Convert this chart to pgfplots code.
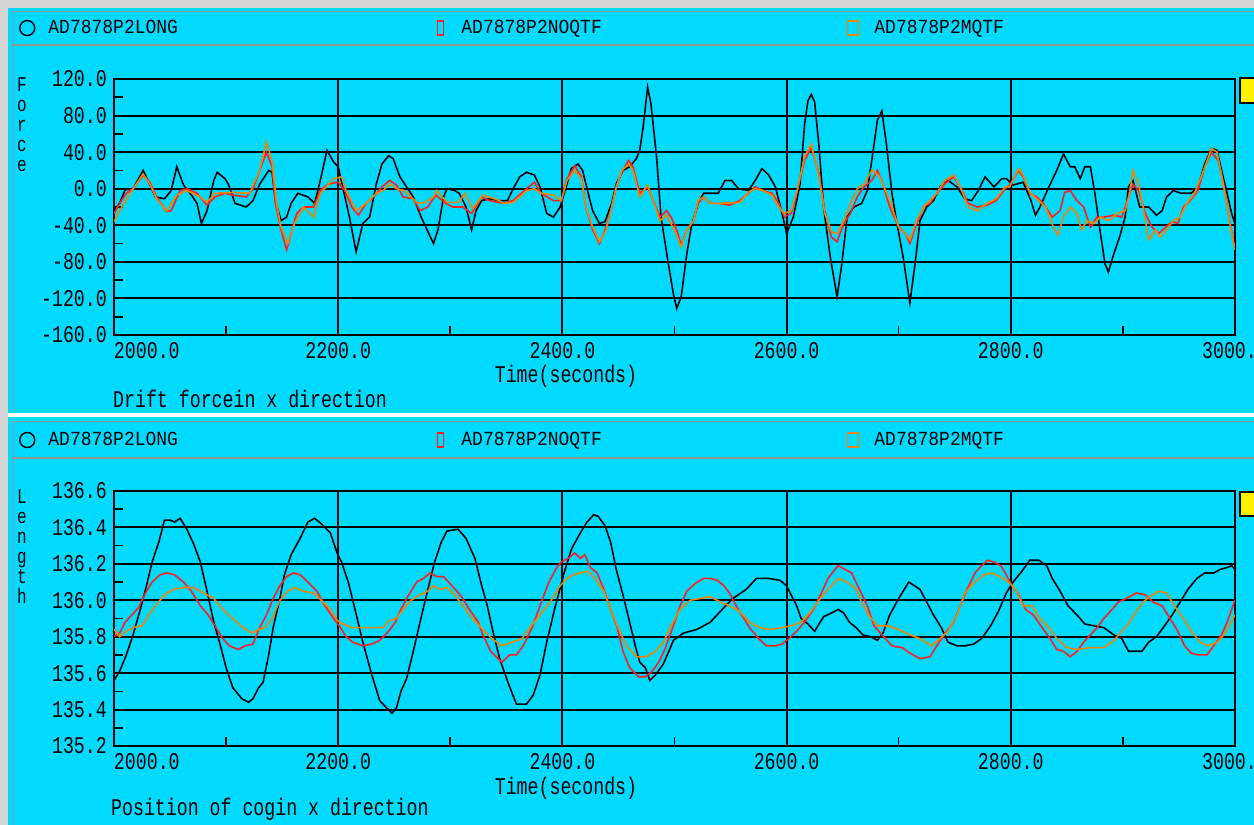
\documentclass[border=0pt]{standalone}
\usepackage{pgfplots}
\pgfplotsset{compat=1.18}
\usepackage{fontspec}
\newfontfamily\tickfam[FakeStretch=0.76]{Liberation Mono}
\newfontfamily\legfam[FakeStretch=0.9]{Liberation Mono}
\newcommand\tickfont{\tickfam\fontsize{24}{20}\selectfont}
\newcommand\stackfont{\tickfam\fontsize{21}{20}\selectfont}
\newcommand\legfont{\legfam\fontsize{20}{20}\selectfont}
\definecolor{panel}{RGB}{0,218,255}
\definecolor{frame}{RGB}{212,212,212}
\definecolor{rule}{RGB}{150,150,150}
\definecolor{sred}{RGB}{255,30,30}
\definecolor{sorange}{RGB}{240,135,0}

\pgfplotsset{
  panelaxis/.style={
    scale only axis, width=1121pt,
    xmin=2000, xmax=3000,
    xtick={2000,2200,...,3000},
    xticklabels={\phantom{2000.0}2000.0,2200.0,2400.0,2600.0,2800.0,3000.0},
    minor x tick num=1, minor y tick num=1,
    grid=major,
    grid style={black, line width=1.9pt},
    major grid style={black, line width=1.9pt},
    axis line style={black, line width=1.9pt},
    tick style={black, line width=1.6pt},
    major tick length=0pt, minor tick length=9pt,
    tick align=inside, xtick pos=left, ytick pos=left,
    tick label style={font=\tickfont, text=black},
    xticklabel style={anchor=north, inner sep=0pt, yshift=-7pt},
    yticklabel style={anchor=east, inner sep=0pt, xshift=-7pt},
    legend columns=3,
    legend cell align=left,
    legend style={draw=none, fill=none, inner sep=0pt, outer sep=0pt,
      font=\legfont, anchor=west, nodes={inner sep=0pt},
      /tikz/every odd column/.append style={column sep=13pt},
      /tikz/every even column/.append style={column sep=242pt}},
    every axis plot/.append style={line width=1.6pt, no markers},
  },
  longimg/.style={legend image code/.code={%
    \path[draw=none,fill=none] (0pt,-8pt) rectangle (16pt,8pt);
    \draw[black,fill=none,line width=1.4pt] (8pt,0pt) circle (7.5pt);}},
  noqimg/.style={legend image code/.code={%
    \path[draw=none,fill=none] (0pt,-8pt) rectangle (16pt,8pt);
    \draw[sred,fill=none,line width=1.5pt] (5pt,-7pt) -- (11pt,-7pt) -- (11pt,7pt) -- (5pt,7pt) -- cycle;}},
  mqimg/.style={legend image code/.code={%
    \path[draw=none,fill=none] (0pt,-8pt) rectangle (16pt,8pt);
    \draw[sorange,fill=none,line width=1.5pt] (2pt,-7pt) -- (13pt,-7pt) -- (13pt,7pt) -- (2pt,7pt) -- cycle;}},
}

\begin{document}
\begin{tikzpicture}
\useasboundingbox (0pt,0pt) rectangle (1254pt,-825pt);
\begin{scope}
\clip (0pt,0pt) rectangle (1254pt,-825pt);

% window frame and the two panels
\begin{scope}[x=1pt,y=-1pt]
  \fill[frame] (0,0) rectangle (1254,825);
  \fill[panel] (8,8) rectangle (1254,413);
  \fill[white] (8,413) rectangle (1254,417);
  \fill[panel] (8,417) rectangle (1254,825);
  \draw[rule,line width=1.5pt] (12.5,412) -- (12.5,11.5) -- (1254,11.5);
  \draw[rule,line width=1.5pt] (12.5,45) -- (1254,45);
  \draw[rule,line width=1.5pt] (12.5,825) -- (12.5,421.5) -- (1254,421.5);
  \draw[rule,line width=1.5pt] (12.5,458) -- (1254,458);
\end{scope}

% ---------- drift force ----------
\begin{axis}[panelaxis, at={(114pt,-335pt)}, anchor=south west, height=256pt,
  ymin=-160, ymax=120, ytick={-160,-120,...,120},
  yticklabels={-160.0,-120.0,-80.0,-40.0,0.0,40.0,80.0,120.0},
  legend style={at={(axis description cs:-0.0847,1.199)}}]
\addplot[black, longimg] coordinates {
(2000,-24)(2005,-16)(2010,-1)(2017,0)(2026,20)(2037,-9)(2045,-11)(2051,-2)(2056,24)(2062,4)
(2068,-5)(2074,-16)(2078,-38)(2083,-24)(2089,9)(2092,18)(2099,11)(2102,5)(2108,-16)(2118,-20)
(2124,-13)(2130,5)(2138,20)(2141,18)(2144,-13)(2149,-35)(2154,-31)(2158,-16)(2164,-5)(2173,-9)
(2179,-16)(2184,9)(2190,42)(2196,29)(2200,24)(2204,2)(2210,-31)(2216,-69)(2222,-38)(2228,-31)
(2234,5)(2239,27)(2245,36)(2249,33)(2255,13)(2261,2)(2267,-9)(2274,-31)(2285,-60)(2289,-45)
(2294,-9)(2297,0)(2304,-2)(2308,-5)(2314,-20)(2319,-45)(2323,-24)(2328,-13)(2335,-11)(2344,-13)
(2351,-13)(2356,0)(2362,13)(2368,18)(2375,15)(2380,2)(2386,-27)(2392,-31)(2398,-20)(2404,5)
(2408,22)(2414,27)(2418,20)(2423,-5)(2427,-24)(2433,-38)(2438,-36)(2444,-16)(2448,5)(2454,20)
(2460,24)(2466,33)(2469,42)(2472,67)(2476,111)(2479,93)(2484,35)(2488,-31)(2494,-78)(2499,-115)
(2502,-131)(2506,-118)(2511,-71)(2515,-42)(2521,-16)(2526,-5)(2532,-5)(2539,-5)(2545,9)(2551,9)
(2557,0)(2566,-2)(2572,9)(2578,22)(2584,15)(2590,2)(2596,-27)(2600,-49)(2606,-31)(2612,5)
(2616,70)(2619,96)(2622,103)(2625,95)(2629,45)(2633,-20)(2639,-75)(2645,-118)(2649,-85)(2654,-31)
(2660,-20)(2667,-16)(2672,-2)(2676,31)(2681,75)(2685,85)(2689,49)(2694,-5)(2698,-35)(2704,-75)
(2710,-125)(2715,-78)(2719,-35)(2725,-20)(2731,-13)(2737,2)(2744,9)(2752,2)(2759,-11)(2765,-13)
(2771,-2)(2777,13)(2785,2)(2792,11)(2796,11)(2802,4)(2811,7)(2818,-13)(2822,-29)(2826,-20)
(2834,2)(2841,20)(2847,38)(2853,24)(2857,24)(2862,11)(2866,24)(2871,24)(2875,-5)(2880,-49)
(2884,-82)(2887,-91)(2892,-71)(2897,-53)(2902,-31)(2905,2)(2909,9)(2915,-20)(2923,-20)(2930,-29)
(2935,-24)(2939,-9)(2945,-2)(2952,-5)(2961,-5)(2967,2)(2973,27)(2979,44)(2984,42)(2988,20)
(2993,-5)(2997,-27)(3000,-38)};
\addlegendentry{\makebox[142pt][l]{AD7878P2LONG}}
\addplot[sred, noqimg] coordinates {
(2000,-27)(2005,-16)(2011,-5)(2017,0)(2026,15)(2032,7)(2038,-9)(2047,-25)(2051,-24)(2059,-2)
(2065,0)(2074,-5)(2083,-18)(2090,-9)(2099,-5)(2106,-7)(2118,-9)(2124,0)(2130,20)(2136,40)
(2141,24)(2144,-16)(2149,-45)(2154,-67)(2158,-49)(2163,-27)(2169,-20)(2178,-20)(2184,-2)(2191,5)
(2200,7)(2206,-2)(2212,-20)(2218,-29)(2225,-16)(2233,-7)(2239,2)(2246,9)(2252,4)(2258,-9)
(2267,-11)(2273,-24)(2280,-20)(2287,-7)(2296,-16)(2302,-20)(2311,-20)(2319,-27)(2328,-9)(2335,-13)
(2347,-16)(2356,-13)(2368,0)(2375,7)(2381,-5)(2392,-13)(2399,-13)(2404,11)(2411,25)(2417,13)
(2421,-20)(2427,-45)(2433,-60)(2439,-42)(2444,-20)(2448,2)(2453,18)(2459,31)(2463,24)(2469,-5)
(2476,2)(2481,-13)(2487,-31)(2493,-24)(2497,-31)(2502,-45)(2506,-62)(2511,-45)(2517,-35)(2521,-16)
(2526,-9)(2532,-16)(2540,-16)(2549,-18)(2558,-13)(2566,-5)(2572,2)(2579,-2)(2587,-5)(2593,-16)
(2598,-31)(2604,-27)(2609,-5)(2616,31)(2622,45)(2629,16)(2634,-24)(2640,-53)(2645,-58)(2651,-38)
(2657,-27)(2663,-9)(2669,2)(2676,9)(2681,20)(2686,5)(2692,-20)(2700,-42)(2706,-49)(2710,-60)
(2716,-38)(2722,-20)(2728,-16)(2734,-5)(2741,5)(2749,13)(2755,2)(2762,-16)(2770,-20)(2779,-18)
(2787,-13)(2795,0)(2799,4)(2807,20)(2811,13)(2817,-5)(2823,-9)(2829,-16)(2837,-31)(2844,-24)
(2848,-4)(2853,-2)(2859,-13)(2865,-20)(2871,-42)(2877,-31)(2883,-31)(2892,-29)(2899,-31)(2905,-9)
(2909,5)(2914,-2)(2920,-27)(2926,-42)(2932,-49)(2938,-42)(2944,-36)(2949,-38)(2954,-20)(2960,-13)
(2967,-2)(2973,24)(2979,40)(2985,31)(2990,5)(2994,-27)(2999,-60)(3000,-62)};
\addlegendentry{\makebox[142pt][l]{AD7878P2NOQTF}}
\addplot[sorange, mqimg] coordinates {
(2000,-36)(2005,-24)(2017,0)(2026,16)(2032,5)(2038,-11)(2047,-24)(2056,-7)(2065,-2)(2077,-9)
(2083,-15)(2090,-5)(2106,-4)(2121,-5)(2130,20)(2136,51)(2141,31)(2145,-16)(2149,-42)(2155,-60)
(2161,-38)(2169,-20)(2178,-31)(2184,-5)(2196,11)(2203,13)(2207,-2)(2216,-24)(2225,-16)(2234,-5)
(2240,-2)(2246,5)(2252,0)(2259,-2)(2270,-15)(2276,-16)(2285,-9)(2288,-2)(2297,-15)(2307,-15)
(2313,-5)(2320,-22)(2329,-7)(2344,-13)(2347,-16)(2356,-15)(2368,-2)(2375,0)(2381,-5)(2392,-7)
(2399,-13)(2404,9)(2411,20)(2417,11)(2421,-20)(2427,-42)(2433,-58)(2439,-45)(2444,-20)(2448,2)
(2453,20)(2459,27)(2463,20)(2469,-9)(2476,4)(2481,-13)(2487,-35)(2493,-29)(2502,-51)(2506,-64)
(2511,-45)(2517,-35)(2521,-13)(2526,-9)(2532,-16)(2540,-16)(2558,-15)(2566,-4)(2572,0)(2579,-2)
(2587,-7)(2593,-20)(2598,-27)(2604,-24)(2609,-4)(2616,35)(2622,49)(2629,13)(2634,-27)(2640,-47)
(2645,-49)(2651,-35)(2657,-16)(2663,0)(2669,5)(2676,20)(2682,15)(2686,5)(2692,-13)(2700,-42)
(2706,-49)(2710,-56)(2716,-35)(2722,-20)(2728,-13)(2734,-5)(2741,9)(2749,15)(2755,2)(2762,-20)
(2770,-24)(2779,-16)(2787,-11)(2795,2)(2799,2)(2807,22)(2811,15)(2817,-4)(2823,-11)(2831,-20)
(2838,-42)(2842,-51)(2847,-31)(2853,-20)(2859,-27)(2863,-45)(2868,-35)(2874,-38)(2880,-31)(2887,-35)
(2895,-27)(2902,-24)(2906,-5)(2909,20)(2914,5)(2918,-20)(2923,-56)(2929,-45)(2933,-53)(2939,-45)
(2945,-35)(2951,-31)(2957,-16)(2964,-5)(2972,20)(2979,44)(2984,40)(2990,2)(2996,-42)(3000,-67)};
\addlegendentry{\makebox[142pt][l]{AD7878P2MQTF}}
\end{axis}

% ---------- cog position ----------
\begin{axis}[panelaxis, at={(114pt,-746pt)}, anchor=south west, height=255pt,
  ymin=135.2, ymax=136.6,
  ytick={135.2,135.4,135.6,135.8,136.0,136.2,136.4,136.6},
  yticklabels={135.2,135.4,135.6,135.8,136.0,136.2,136.4,136.6},
  legend style={at={(axis description cs:-0.0847,1.2)}}]
\addplot[black, longimg] coordinates {
(2000,135.56)(2005,135.61)(2011,135.70)(2017,135.81)(2023,135.94)(2029,136.08)(2034,136.21)(2040,136.32)
(2045,136.44)(2050,136.44)(2054,136.43)(2059,136.45)(2065,136.39)(2071,136.31)(2077,136.21)(2083,136.05)
(2089,135.88)(2095,135.75)(2100,135.63)(2106,135.52)(2114,135.46)(2120,135.44)(2124,135.46)(2129,135.52)
(2133,135.55)(2138,135.70)(2142,135.85)(2148,136.01)(2152,136.14)(2158,136.25)(2166,136.34)(2173,136.43)
(2179,136.45)(2185,136.42)(2193,136.37)(2199,136.26)(2203,136.21)(2209,136.10)(2215,135.95)(2222,135.77)
(2230,135.59)(2237,135.45)(2243,135.41)(2248,135.38)(2252,135.41)(2256,135.50)(2261,135.57)(2267,135.72)
(2273,135.88)(2280,136.06)(2286,136.21)(2292,136.32)(2297,136.38)(2307,136.39)(2314,136.34)(2322,136.23)
(2328,136.08)(2333,135.97)(2338,135.83)(2344,135.68)(2352,135.54)(2359,135.43)(2368,135.43)(2374,135.48)
(2380,135.59)(2386,135.77)(2393,135.95)(2401,136.14)(2408,136.28)(2416,136.37)(2422,136.43)(2428,136.47)
(2432,136.46)(2438,136.41)(2443,136.32)(2448,136.17)(2454,136.03)(2460,135.88)(2465,135.75)(2469,135.66)
(2474,135.63)(2478,135.56)(2483,135.59)(2490,135.65)(2495,135.72)(2499,135.78)(2508,135.82)(2520,135.84)
(2532,135.88)(2541,135.94)(2552,136.01)(2564,136.06)(2573,136.12)(2584,136.12)(2594,136.11)(2600,136.08)
(2604,136.03)(2609,135.97)(2613,135.90)(2619,135.87)(2625,135.83)(2633,135.91)(2640,135.93)(2646,135.95)
(2651,135.93)(2656,135.88)(2662,135.85)(2668,135.81)(2675,135.80)(2681,135.78)(2686,135.82)(2692,135.92)
(2700,136.01)(2709,136.10)(2719,136.06)(2725,135.99)(2731,135.92)(2738,135.85)(2744,135.77)(2752,135.75)
(2759,135.75)(2767,135.76)(2774,135.79)(2782,135.86)(2789,135.94)(2796,136.04)(2802,136.10)(2810,136.16)
(2817,136.22)(2825,136.22)(2832,136.19)(2837,136.12)(2844,136.05)(2851,135.97)(2859,135.92)(2866,135.87)
(2874,135.86)(2883,135.85)(2892,135.81)(2899,135.79)(2905,135.72)(2911,135.72)(2917,135.72)(2923,135.77)
(2930,135.80)(2936,135.85)(2944,135.92)(2951,135.99)(2958,136.06)(2966,136.12)(2973,136.15)(2981,136.15)
(2987,136.17)(2993,136.18)(2997,136.19)(3000,136.17)};
\addlegendentry{\makebox[142pt][l]{AD7878P2LONG}}
\addplot[sred, noqimg] coordinates {
(2000,135.80)(2005,135.82)(2010,135.88)(2016,135.92)(2022,135.96)(2028,136.04)(2034,136.10)(2041,136.14)
(2047,136.15)(2054,136.14)(2062,136.10)(2069,136.05)(2077,135.97)(2084,135.92)(2090,135.86)(2097,135.79)
(2103,135.75)(2111,135.73)(2117,135.75)(2124,135.76)(2130,135.85)(2136,135.92)(2142,136.01)(2148,136.08)
(2154,136.13)(2160,136.15)(2166,136.14)(2173,136.10)(2181,136.05)(2188,135.97)(2196,135.90)(2202,135.85)
(2207,135.80)(2213,135.77)(2222,135.75)(2230,135.76)(2237,135.78)(2245,135.83)(2251,135.88)(2256,135.95)
(2262,136.02)(2270,136.10)(2276,136.12)(2282,136.15)(2288,136.13)(2294,136.13)(2303,136.07)(2310,136.02)
(2317,135.95)(2325,135.88)(2329,135.81)(2336,135.72)(2346,135.66)(2353,135.70)(2359,135.70)(2365,135.75)
(2373,135.85)(2380,135.97)(2388,136.10)(2395,136.18)(2399,136.21)(2405,136.23)(2411,136.26)(2416,136.23)
(2420,136.25)(2425,136.18)(2431,136.15)(2437,136.06)(2443,135.95)(2449,135.85)(2454,135.72)(2460,135.63)
(2468,135.58)(2474,135.58)(2480,135.61)(2486,135.66)(2492,135.74)(2499,135.86)(2505,135.97)(2511,136.05)
(2518,136.09)(2526,136.12)(2532,136.12)(2538,136.11)(2544,136.08)(2549,136.04)(2555,135.97)(2561,135.91)
(2567,135.85)(2575,135.79)(2582,135.75)(2590,135.75)(2596,135.76)(2602,135.79)(2609,135.83)(2616,135.88)
(2624,135.95)(2631,136.04)(2637,136.12)(2642,136.16)(2646,136.19)(2652,136.17)(2658,136.15)(2665,136.06)
(2672,135.97)(2678,135.86)(2685,135.81)(2694,135.75)(2703,135.74)(2710,135.71)(2719,135.68)(2728,135.69)
(2736,135.77)(2743,135.83)(2749,135.88)(2755,135.97)(2761,136.06)(2768,136.15)(2774,136.19)(2779,136.22)
(2785,136.21)(2791,136.19)(2796,136.14)(2801,136.08)(2807,136.03)(2813,135.95)(2820,135.92)(2828,135.85)
(2835,135.79)(2841,135.73)(2847,135.72)(2853,135.69)(2859,135.72)(2865,135.77)(2871,135.81)(2877,135.85)
(2883,135.90)(2889,135.94)(2896,135.99)(2903,136.01)(2912,136.04)(2920,136.03)(2927,135.99)(2935,135.97)
(2942,135.90)(2949,135.83)(2955,135.75)(2961,135.71)(2967,135.70)(2975,135.70)(2981,135.75)(2988,135.81)
(2993,135.88)(2997,135.95)(3000,136.00)};
\addlegendentry{\makebox[142pt][l]{AD7878P2NOQTF}}
\addplot[sorange, mqimg] coordinates {
(2000,135.84)(2005,135.80)(2011,135.83)(2017,135.85)(2025,135.86)(2031,135.92)(2037,135.97)(2045,136.03)
(2053,136.06)(2062,136.07)(2071,136.07)(2080,136.04)(2089,136.01)(2097,135.95)(2106,135.90)(2115,135.85)
(2123,135.82)(2129,135.84)(2135,135.85)(2141,135.90)(2148,136.00)(2155,136.05)(2161,136.07)(2169,136.05)
(2178,136.04)(2185,136.00)(2193,135.95)(2199,135.89)(2204,135.87)(2213,135.85)(2222,135.85)(2231,135.85)
(2240,135.85)(2246,135.89)(2252,135.90)(2258,135.95)(2265,136.00)(2273,136.03)(2280,136.05)(2285,136.08)
(2291,136.06)(2297,136.07)(2304,136.03)(2311,135.97)(2317,135.92)(2326,135.86)(2337,135.79)(2346,135.75)
(2355,135.77)(2364,135.79)(2371,135.85)(2380,135.92)(2389,135.99)(2398,136.08)(2404,136.12)(2410,136.14)
(2416,136.15)(2422,136.16)(2429,136.12)(2437,136.05)(2443,135.95)(2449,135.86)(2457,135.75)(2466,135.69)
(2475,135.69)(2483,135.72)(2490,135.77)(2497,135.86)(2505,135.95)(2514,136.00)(2523,136.01)(2532,136.02)
(2541,135.99)(2549,135.97)(2558,135.94)(2567,135.88)(2576,135.85)(2585,135.84)(2596,135.85)(2604,135.86)
(2613,135.88)(2622,135.94)(2630,136.01)(2637,136.06)(2646,136.12)(2654,136.10)(2662,136.06)(2666,136.00)
(2673,135.92)(2681,135.86)(2690,135.86)(2700,135.84)(2710,135.81)(2719,135.79)(2729,135.75)(2737,135.79)
(2744,135.83)(2752,135.92)(2759,136.04)(2768,136.10)(2776,136.14)(2783,136.15)(2790,136.13)(2798,136.10)
(2804,136.06)(2811,135.97)(2819,135.97)(2826,135.90)(2834,135.85)(2841,135.79)(2850,135.74)(2859,135.73)
(2871,135.74)(2883,135.74)(2892,135.78)(2899,135.83)(2906,135.88)(2912,135.94)(2918,135.99)(2924,136.02)
(2932,136.05)(2939,136.04)(2947,135.96)(2954,135.90)(2961,135.83)(2969,135.77)(2976,135.75)(2984,135.77)
(2990,135.81)(2994,135.85)(3000,135.92)};
\addlegendentry{\makebox[142pt][l]{AD7878P2MQTF}}
\end{axis}

% titles, axis names and the side markers
\begin{scope}[x=1pt,y=-1pt]
  \node[font=\tickfont, inner sep=0pt] at (566,376) {Time(seconds)};
  \node[font=\tickfont, inner sep=0pt, anchor=west] at (113,399) {Drift forcein x direction};
  \node[font=\stackfont, inner sep=0pt, anchor=north, align=center] at (22,77) {F\\o\\r\\c\\e};
  \filldraw[fill=yellow, draw=black, line width=1.2pt] (1240,78) rectangle (1260,103);
  \node[font=\tickfont, inner sep=0pt] at (566,788) {Time(seconds)};
  \node[font=\tickfont, inner sep=0pt, anchor=west] at (111,809) {Position of cogin x direction};
  \node[font=\stackfont, inner sep=0pt, anchor=north, align=center] at (22,489) {L\\e\\n\\g\\t\\h};
  \filldraw[fill=yellow, draw=black, line width=1.2pt] (1240,492) rectangle (1260,516);
\end{scope}
\end{scope}
\end{tikzpicture}
\end{document}
